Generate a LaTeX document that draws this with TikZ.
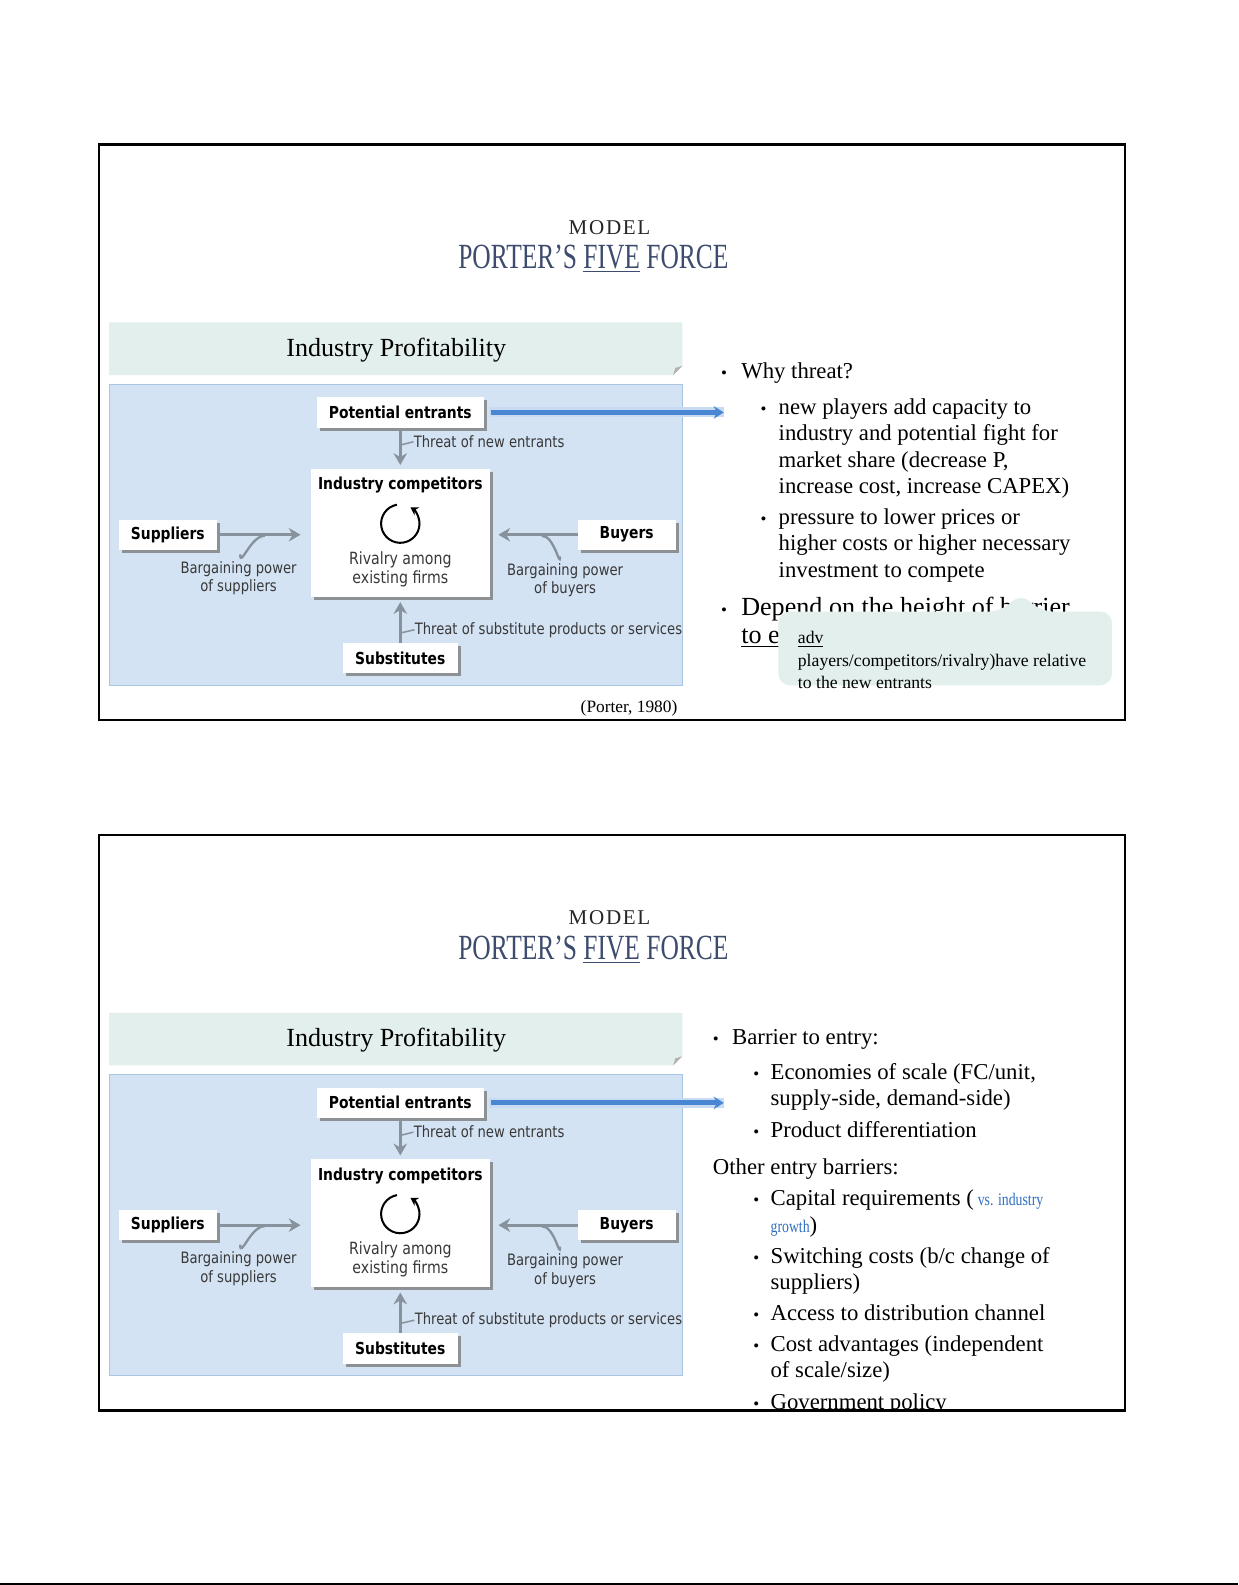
\documentclass[tikz,border=0pt]{standalone}
\usepackage{fontspec}
\setmainfont{Liberation Serif}
\newfontfamily\diagfont[FakeStretch=0.84]{DejaVu Sans}
\newfontfamily\titlefont[FakeStretch=0.72]{Liberation Serif}
\newfontfamily\narrowfont[FakeStretch=0.78]{Liberation Serif}
\usepackage{tikz}
\usetikzlibrary{positioning}
\usetikzlibrary{arrows.meta,shadows}
\definecolor{mint}{HTML}{E2EFEC}
\definecolor{panelblue}{HTML}{D4E3F3}
\definecolor{panelline}{HTML}{A9C5E0}
\definecolor{titleblue}{HTML}{3D4B6E}
\definecolor{arrowgray}{HTML}{88929C}
\definecolor{boxshadow}{HTML}{8E9194}
\definecolor{arrowblue}{HTML}{4A87D3}
\definecolor{linkblue}{HTML}{2F6FC0}

\begin{document}
\begin{tikzpicture}[x=0.6pt, y=-0.6pt,
frame/.style={draw=black, line width=1.3pt},
force/.style={fill=white, font=\diagfont\bfseries\fontsize{9.8}{11}\selectfont, minimum height=18pt, inner sep=0pt,
  drop shadow={shadow xshift=1.8pt, shadow yshift=-1.8pt, fill=boxshadow, opacity=1}},
core/.style={fill=white, minimum width=106pt, minimum height=76pt, inner sep=0pt,
  drop shadow={shadow xshift=1.8pt, shadow yshift=-1.8pt, fill=boxshadow, opacity=1}},
lbl/.style={font=\diagfont\fontsize{9.3}{11}\selectfont, text=black!78, inner sep=0pt, align=center},
farrow/.style={draw=arrowgray, line width=1.9pt, -{Stealth[length=7pt, width=8pt]}},
tick/.style={draw=arrowgray, line width=0.9pt},
bluearrow/.style={draw=arrowblue, line width=2.8pt, -{Stealth[length=6pt, width=7.5pt]}},
glow/.style={draw=arrowblue!30, line width=6pt},
txt/.style={anchor=base west, inner sep=0pt, font=\fontsize{13.5}{15.6}\selectfont},
bigtxt/.style={anchor=base west, inner sep=0pt, font=\fontsize{15.5}{18}\selectfont},
dot/.style={anchor=base west, inner sep=0pt, font=\fontsize{10}{12}\selectfont},
tiptxt/.style={anchor=base west, inner sep=0pt, font=\fontsize{10.5}{13}\selectfont}]

\useasboundingbox (0,0) rectangle (1225,1568);
\fill[white] (0,0) rectangle (1225,1568);

% the two slides share the same header and diagram
\foreach \k/\dy in {1/0, 2/683} {
\begin{scope}[shift={(0,\dy)}]
\draw[frame] (98,143) rectangle (1113,712);
\node[font=\fontsize{12.5}{14}\selectfont\addfontfeature{LetterSpace=8}, text=black!85] (md\k) at (603,225) {MODEL};
\node[font=\titlefont\fontsize{21}{25}\selectfont, text=titleblue] (tt\k) at (587,256) {PORTER’S \underline{FIVE} FORCE};

% header bar
\fill[mint] (108,319) -- (675,319) -- (675,362) -- (666,371) -- (108,371) -- cycle;
\fill[black!30] (666,371) -- (675,362) -- (668,364) -- cycle;
\node[font=\fontsize{15.5}{18}\selectfont] (ip\k) at (392,346) {Industry Profitability};

% diagram panel
\draw[panelline, fill=panelblue] (108,380) rectangle (675,678);
\node[force, minimum width=99pt] (pe\k) at (396,408) {Potential entrants};
\node[core] (ic\k) at (396,527) {};
\node[lbl, font=\diagfont\bfseries\fontsize{9.8}{11}\selectfont, text=black] (ict\k) at (396,480) {Industry competitors};
\node[lbl, font=\diagfont\fontsize{10}{11}\selectfont] (riv\k) at (396,563) {Rivalry among\\existing firms};
\draw[line width=1.2pt, -{Stealth[length=4.5pt, width=5.5pt]}] (396,518) ++(-100:19) arc[start angle=-100, end angle=-418, radius=19];
\node[force, minimum width=58pt] (su\k) at (166,529) {Suppliers};
\node[force, minimum width=58pt] (bu\k) at (620,529) {Buyers};
\node[force, minimum width=68pt] (sb\k) at (396,651) {Substitutes};

\draw[farrow, shorten >=2pt] (pe\k) -- (ic\k);
\draw[farrow, shorten >=6pt] (su\k.east) -- (su\k.east -| ic\k.west);
\draw[farrow, shorten >=5pt] (bu\k.west) -- (bu\k.west -| ic\k.east);
\draw[farrow, shorten >=3pt] (sb\k) -- (ic\k);

\node[lbl, anchor=west] (tn\k) at (409,437) {Threat of new entrants};
\draw[tick] (397,440) -- (tn\k.west);
\node[lbl, anchor=west] (ts\k) at (410,623) {Threat of substitute products or services};
\draw[tick] (397,626) -- (ts\k.west);
\node[lbl] (bs\k) at (236,572) {Bargaining power\\of suppliers};
\draw[tick, line width=1.4pt] ([xshift=1pt, yshift=4pt]bs\k.north) to[out=-90, in=180, looseness=1.2] (262,530);
\node[lbl] (bb\k) at (559,574) {Bargaining power\\of buyers};
\draw[tick, line width=1.4pt] ([xshift=-3pt, yshift=4pt]bb\k.north) to[out=-90, in=0, looseness=1.2] (536,530);

% link to the text
\coordinate (to\k) at (716,408);
\draw[glow] ([xshift=3pt]pe\k.east) -- (to\k);
\draw[bluearrow] ([xshift=4pt]pe\k.east) -- (to\k);
\end{scope}
}

% slide 1 text
\node[anchor=base east, font=\fontsize{10.3}{12}\selectfont] (src) at (676,705) {(Porter,\ 1980)};
\node[dot] (b11) at (713,374) {•};
\node[txt] (l11) at (733,374) {Why threat?};
\node[dot] (b12) at (752,410) {•};
\node[txt] (l12) at (770,410) {new players add capacity to};
\node[txt] (l13) at (770,436) {industry and potential fight for};
\node[txt] (l14) at (770,462) {market share (decrease P,};
\node[txt] (l15) at (770,488) {increase cost, increase CAPEX)};
\node[dot] (b16) at (752,519) {•};
\node[txt] (l16) at (770,519) {pressure to lower prices or};
\node[txt] (l17) at (770,545) {higher costs or higher necessary};
\node[txt] (l18) at (770,571) {investment to compete};
\node[dot] (b19) at (713,609) {•};
\node[bigtxt] (l19) at (733,609) {Depend on the height of barrier};
\node[bigtxt] (l1a) at (733,637) {\underline{to e}};

% comment balloon
\fill[mint, rounded corners=7] (770,605) -- (990,605) -- (1010,587) -- (1030,605) -- (1100,605) -- (1100,678) -- (770,678) -- cycle;
\node[tiptxt] (c1) at (789,637) {\underline{adv}};
\node[tiptxt] (c2) at (789,659) {players/competitors/rivalry)have relative};
\node[tiptxt] (c3) at (789,681) {to the new entrants};

% slide 2 text
\begin{scope}
\clip (98,826) rectangle (1113,1396);
\node[dot] (b21) at (705,1033) {•};
\node[txt] (l21) at (724,1033) {Barrier to entry:};
\node[dot] (b22) at (745,1068) {•};
\node[txt] (l22) at (762,1068) {Economies of scale (FC/unit,};
\node[txt] (l23) at (762,1094) {supply-side, demand-side)};
\node[dot] (b24) at (745,1125) {•};
\node[txt] (l24) at (762,1125) {Product differentiation};
\node[txt] (l25) at (705,1162) {Other entry barriers:};
\node[dot] (b26) at (745,1193) {•};
\node[txt] (l26) at (762,1193) {Capital requirements (\,{\narrowfont\fontsize{10.5}{12}\selectfont\color{linkblue}vs. industry}};
\node[txt] (l27) at (762,1219) {{\narrowfont\fontsize{10.5}{12}\selectfont\color{linkblue}growth})};
\node[dot] (b28) at (745,1250) {•};
\node[txt] (l28) at (762,1250) {Switching costs (b/c change of};
\node[txt] (l29) at (762,1276) {suppliers)};
\node[dot] (b2a) at (745,1306) {•};
\node[txt] (l2a) at (762,1306) {Access to distribution channel};
\node[dot] (b2b) at (745,1337) {•};
\node[txt] (l2b) at (762,1337) {Cost advantages (independent};
\node[txt] (l2c) at (762,1363) {of scale/size)};
\node[dot] (b2d) at (745,1394) {•};
\node[txt] (l2d) at (762,1394) {Government policy};
\end{scope}
\draw[frame] (98,826) rectangle (1113,1396);

\draw[line width=1pt] (0,1567) -- (1225,1567);
\end{tikzpicture}
\end{document}
